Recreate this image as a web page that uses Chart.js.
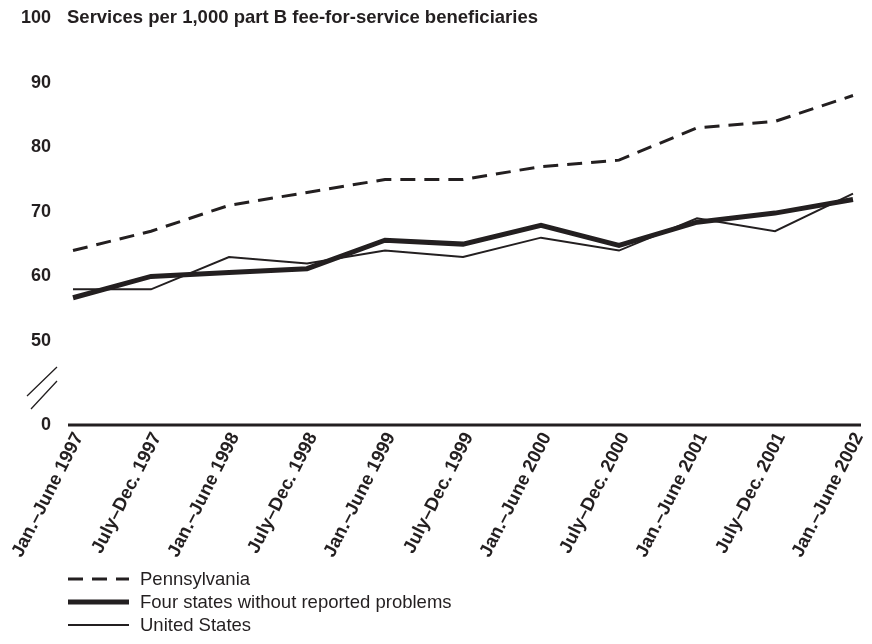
<!DOCTYPE html>
<html>
<head>
<meta charset="utf-8">
<script src="https://cdn.jsdelivr.net/npm/chart.js@4.4.0/dist/chart.umd.min.js"></script>
<style>
  body { margin: 0; background: #fff; }
  canvas { display: block; }
</style>
</head>
<body>
<canvas id="servicesChart" width="872" height="644"></canvas>
<script>
// data
const periods = ["Jan.\u2013June 1997", "July\u2013Dec. 1997", "Jan.\u2013June 1998", "July\u2013Dec. 1998",
    "Jan.\u2013June 1999", "July\u2013Dec. 1999", "Jan.\u2013June 2000", "July\u2013Dec. 2000",
    "Jan.\u2013June 2001", "July\u2013Dec. 2001", "Jan.\u2013June 2002"];
const pennsylvania = [64, 67, 71, 73, 75, 75, 77, 78, 83, 84, 88];
const fourStates = [56.7, 60, 60.6, 61.2, 65.6, 65, 67.9, 64.8, 68.4, 69.8, 71.9];
const unitedStates = [58, 58, 63, 62, 64, 63, 66, 64, 69, 67, 72.8];
const yTicks = [37, 50, 60, 70, 80, 90, 100];   // 37 = where the broken axis shows "0"
const yLabels = ["0", "50", "60", "70", "80", "90", "100"];
const seriesNames = ["Pennsylvania", "Four states without reported problems", "United States"];

const ink = "#231f20";
const fontFamily = "'Liberation Sans', Arial, sans-serif";

//============================== EXTRAS ===========================
const extras = {
    id: "extras",
    afterDraw(chart) {
        const ctx = chart.ctx;
        const area = chart.chartArea;
        const y = chart.scales.y;
        ctx.save();

        // title next to 100
        ctx.fillStyle = ink;
        ctx.font = "bold 18.5px " + fontFamily;
        ctx.textAlign = "left";
        ctx.textBaseline = "middle";
        ctx.fillText("Services per 1,000 part B fee-for-service beneficiaries", 67, y.getPixelForValue(100));

        // x axis line
        ctx.strokeStyle = ink;
        ctx.lineWidth = 3;
        ctx.beginPath();
        ctx.moveTo(area.left - 5, area.bottom);
        ctx.lineTo(area.right + 8, area.bottom);
        ctx.stroke();

        // axis break marks
        ctx.lineWidth = 1.3;
        ctx.beginPath();
        ctx.moveTo(27, 396); ctx.lineTo(57, 367);
        ctx.moveTo(31, 409); ctx.lineTo(57, 381);
        ctx.stroke();

        // legend
        const sets = chart.data.datasets;
        ctx.font = "18.5px " + fontFamily;
        for (let i = 0; i < sets.length; i++) {
            const ly = 579 + i * 23;
            ctx.lineWidth = sets[i].borderWidth;
            ctx.setLineDash(sets[i].borderDash || []);
            ctx.beginPath();
            ctx.moveTo(68, ly);
            ctx.lineTo(129, ly);
            ctx.stroke();
            ctx.setLineDash([]);
            ctx.fillText(sets[i].label, 140, ly + 1);
        }
        ctx.restore();
    }
};

//============================== CHART ===========================
const chartData = {
    labels: periods,
    datasets: [
        {
            label: seriesNames[0],
            data: pennsylvania,
            borderColor: ink,
            borderWidth: 3,
            borderDash: [15, 9],
            pointRadius: 0,
            tension: 0,
        },
        {
            label: seriesNames[1],
            data: fourStates,
            borderColor: ink,
            borderWidth: 5,
            pointRadius: 0,
            tension: 0,
        },
        {
            label: seriesNames[2],
            data: unitedStates,
            borderColor: ink,
            borderWidth: 2,
            pointRadius: 0,
            tension: 0,
        },
    ],
};

const chartConfig = {
    type: "line",
    data: chartData,
    options: {
        responsive: false,
        maintainAspectRatio: false,
        animation: false,
        layout: { padding: { top: 18, right: 19, left: 0, bottom: 0 } },
        plugins: {
            legend: { display: false },
            tooltip: { enabled: false },
        },
        scales: {
            x: {
                type: "category",
                offset: false,
                grid: { display: false, drawTicks: false },
                border: { display: false },
                ticks: {
                    color: ink,
                    font: { family: fontFamily, size: 18.5, weight: "bold" },
                    autoSkip: false,
                    minRotation: 63,
                    maxRotation: 63,
                    padding: 4,
                    labelOffset: 6,
                },
                afterFit(scale) {
                    scale.paddingLeft = 0;
                    scale.paddingRight = 0;
                    scale.height = 219;
                },
            },
            y: {
                min: 37,
                max: 100,
                grid: { display: false, drawTicks: false },
                border: { display: false },
                afterBuildTicks(scale) {
                    scale.ticks = yTicks.map(v => ({ value: v }));
                },
                ticks: {
                    color: ink,
                    font: { family: fontFamily, size: 18, weight: "bold" },
                    padding: 22,
                    callback: (value) => yLabels[yTicks.indexOf(value)],
                },
                afterFit(scale) {
                    scale.width = 73;
                    scale.paddingTop = 0;
                    scale.paddingBottom = 0;
                },
            },
        },
    },
    plugins: [extras],
};

const servicesChart = new Chart(document.getElementById("servicesChart").getContext("2d"), chartConfig);
</script>
</body>
</html>
